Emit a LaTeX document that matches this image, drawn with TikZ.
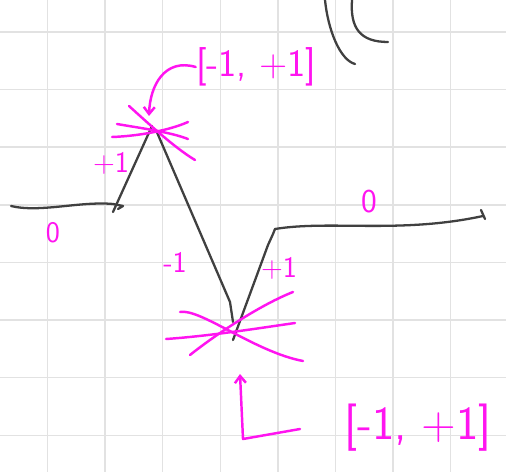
\documentclass[tikz,border=0pt]{standalone}
\usepackage{fontspec}
\usetikzlibrary{arrows.meta}
\definecolor{skink}{HTML}{404040}
\definecolor{skpen}{HTML}{FF14F0}
\definecolor{skgrid}{HTML}{E2E2E2}
\tikzset{
  skgridline/.style={
    draw=skgrid,
    line width=0.8pt
  },
  skcurve/.style={
    draw=skink,
    line width=1.3pt,
    line cap=round,
    line join=round
  },
  skmark/.style={
    draw=skpen,
    line width=1.4pt,
    line cap=round,
    line join=round
  },
  skarrow/.style={
    skmark,
    -{Straight Barb[length=1.4mm,width=2.2mm]}
  },
  sklabel/.style={
    text=skpen,
    inner sep=0pt,
    font=\sffamily\fontsize{17}{17}\selectfont
  },
  skrange/.style={
    text=skpen,
    inner sep=0pt
  }
}

\begin{document}
\begin{tikzpicture}[x=0.02cm,y=-0.02cm]
  \useasboundingbox[fill=white] (0,0) rectangle (506,472);
  \foreach \gx in {0,...,7}
    \draw[skgridline] ({47.5+57.6*\gx},0) -- ({47.5+57.6*\gx},472);
  \foreach \gy in {0,...,7}
    \draw[skgridline] (0,{32+57.6*\gy}) -- (506,{32+57.6*\gy});

  % corner points of the sketch
  \coordinate (peak) at (155,132);
  \coordinate (trough) at (230,333);
  \coordinate (leftend) at (113,204);
  \coordinate (rightstart) at (275,229);

  % black sketch
  \draw[skcurve] (11,206) .. controls (40,213) and (80,201) .. (leftend)
    -- (123,206) -- (118,209);
  \draw[skcurve] (113,212) -- (152,126);
  \draw[skcurve] (156,130) -- (230,302) -- (233,322);
  \draw[skcurve] (233,340) -- (268,245) -- (273,234) -- (rightstart);
  \draw[skcurve] (rightstart) .. controls (330,220) and (400,234) .. (483,216);
  \draw[skcurve] (481,210) -- (485,219);
  \draw[skcurve] (325,0) .. controls (328,30) and (340,60) .. (355,64);
  \draw[skcurve] (352,0) .. controls (350,28) and (360,42) .. (388,42);

  % spread at the peak
  \draw[skmark] (129,106) .. controls (150,125) and (175,148) .. (195,160);
  \draw[skmark] (117,124) .. controls (140,128) and (170,132) .. (188,139);
  \draw[skmark] (112,137) .. controls (140,136) and (170,130) .. (188,122);

  % spread at the trough
  \draw[skmark] (180,312) .. controls (200,308) and (255,352) .. (303,361);
  \draw[skmark] (166,339) .. controls (210,336) and (260,328) .. (295,323);
  \draw[skmark] (190,355) .. controls (215,335) and (260,305) .. (293,292);

  % labels
  \node[sklabel] (zeroleft) at (53,233) {0};
  \node[sklabel] (riseleft) at (111,163) {+1};
  \node[sklabel] (fallmid) at (175,262) {-1};
  \node[sklabel] (riseright) at (279,268) {+1};
  \node[sklabel, font=\sffamily\fontsize{19}{19}\selectfont] (zeroright) at (369,202) {0};

  \node[skrange, font=\sffamily\fontsize{22}{22}\selectfont] (toprange) at (256,67) {[-1, +1]};
  \node[skrange, font=\sffamily\fontsize{27}{27}\selectfont] (botrange) at (418,428) {[-1, +1]};

  \draw[skarrow] (toprange.west) .. controls (165,58) and (150,85) .. (149,116);
  \draw[skarrow] (300,429) -- (243,439) -- (240,374);
\end{tikzpicture}
\end{document}
